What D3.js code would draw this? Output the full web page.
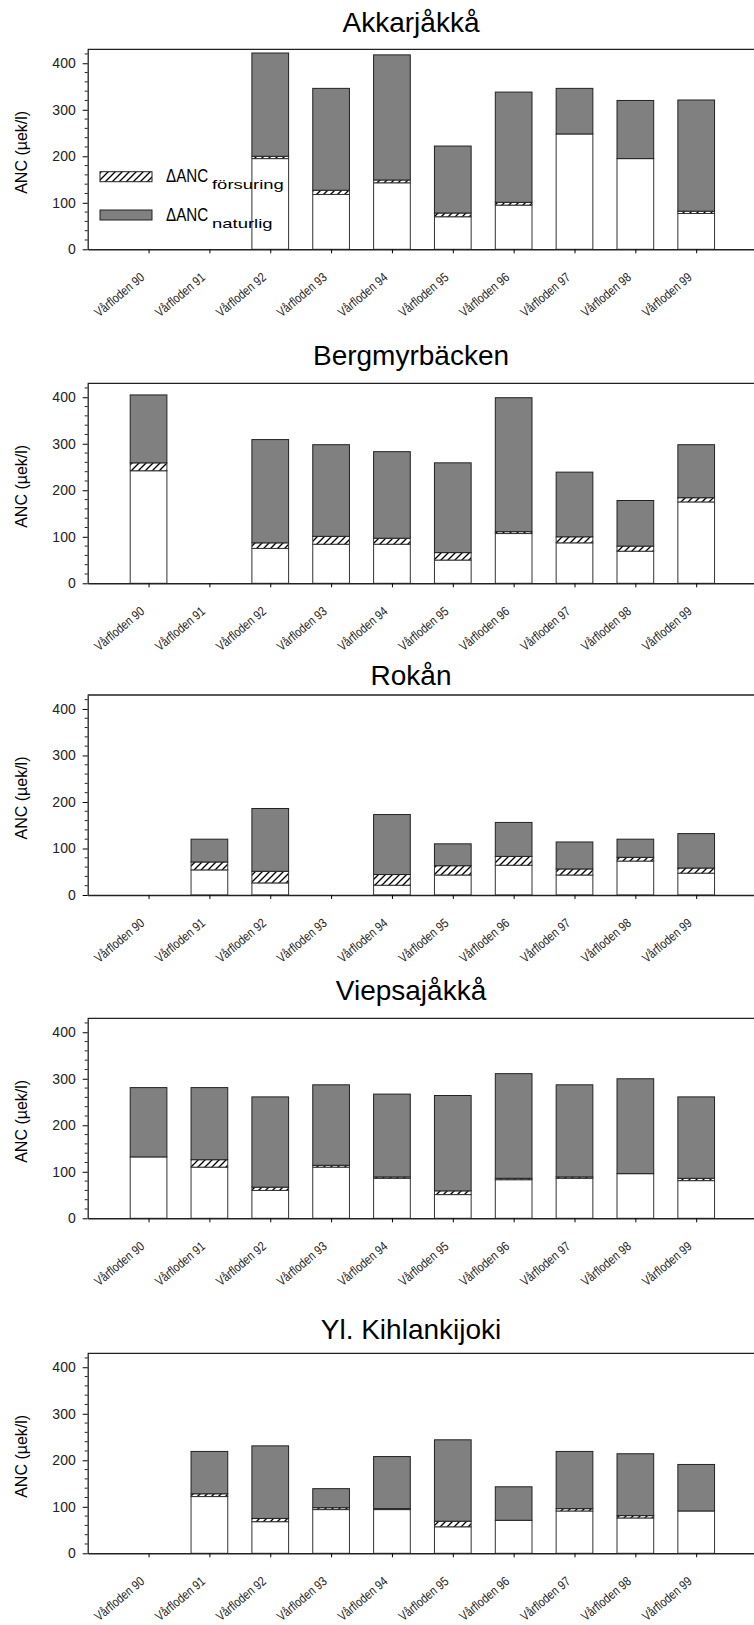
<!DOCTYPE html>
<html>
<head>
<meta charset="utf-8">
<script src="https://cdn.jsdelivr.net/npm/d3@7"></script>
<style>
  body { margin: 0; background: #fff; }
  svg { display: block; font-family: "Liberation Sans", Arial, sans-serif; }
</style>
</head>
<body>
<div id="chart"></div>
<script>
// categories on the x axis
const years = [90, 91, 92, 93, 94, 95, 96, 97, 98, 99];
const categories = years.map(y => 'Vårfloden ' + y);
const yTicks = [0, 100, 200, 300, 400];

// one row per station: white base, hatched ΔANC försuring, grey ΔANC naturlig (µek/l)
const akkarjakkaBase      = [null, null, 195, 118, 143, 70, 95, 248, 195, 77];
const akkarjakkaForsuring = [null, null, 5, 9, 6, 8, 6, 0, 0, 5];
const akkarjakkaNaturlig  = [null, null, 222, 219, 269, 144, 237, 98, 125, 239];

const bergmyrBase      = [242, null, 75, 84, 84, 50, 107, 87, 69, 175];
const bergmyrForsuring = [17, null, 12, 17, 13, 16, 4, 13, 11, 9];
const bergmyrNaturlig  = [146, null, 222, 197, 186, 193, 288, 139, 98, 114];

const rokanBase      = [null, 54, 26, null, 21, 43, 64, 43, 73, 47];
const rokanForsuring = [null, 17, 25, null, 23, 20, 19, 13, 8, 11];
const rokanNaturlig  = [null, 49, 135, null, 129, 47, 73, 58, 39, 74];

const viepsaBase      = [132, 110, 60, 110, 86, 51, 83, 86, 96, 81];
const viepsaForsuring = [0, 16, 7, 4, 3, 8, 3, 3, 0, 5];
const viepsaNaturlig  = [149, 155, 194, 173, 178, 205, 225, 198, 204, 175];

const kihlBase      = [null, 122, 68, 94, 94, 57, 71, 91, 76, 91];
const kihlForsuring = [null, 6, 7, 4, 2, 12, 0, 5, 5, 0];
const kihlNaturlig  = [null, 91, 156, 41, 112, 175, 72, 123, 133, 100];

const stations = [
  {name: 'Akkarjåkkå', base: akkarjakkaBase, fors: akkarjakkaForsuring, nat: akkarjakkaNaturlig},
  {name: 'Bergmyrbäcken', base: bergmyrBase, fors: bergmyrForsuring, nat: bergmyrNaturlig},
  {name: 'Rokån', base: rokanBase, fors: rokanForsuring, nat: rokanNaturlig},
  {name: 'Viepsajåkkå', base: viepsaBase, fors: viepsaForsuring, nat: viepsaNaturlig},
  {name: 'Yl. Kihlankijoki', base: kihlBase, fors: kihlForsuring, nat: kihlNaturlig}
];

// layout of the five panels
const width = 754, height = 1625;
const left = 87.7, step = 60.85, plotH = 200;
const zeroY = [249.3, 583.3, 895, 1218.3, 1553.3];
const titleY = [31.7, 365, 685, 1000, 1339.3];
const titleX = 411;

const svg = d3.select('#chart').append('svg')
  .attr('width', width)
  .attr('height', height);

let defs = svg.append('defs');
let pat = defs.append('pattern')
  .attr('id', 'hatch')
  .attr('patternUnits', 'userSpaceOnUse')
  .attr('width', 7).attr('height', 7);
pat.append('rect').attr('width', 7).attr('height', 7).attr('fill', '#fff');
pat.append('path')
  .attr('d', 'M-1,8 L8,-1 M-4,4 L4,-4 M3,11 L11,3')
  .attr('stroke', '#000').attr('stroke-width', 1.3);

let x = d3.scaleLinear().domain([89, 100]).range([left, left + 11 * step]);
let barW = 36.7;

stations.forEach((st, i) => {
  let y0 = zeroY[i];
  let y = d3.scaleLinear().domain([0, 430]).range([y0, y0 - plotH]);
  let g = svg.append('g');

  g.append('text')
    .attr('x', titleX).attr('y', titleY[i])
    .attr('text-anchor', 'middle')
    .style('font-size', '28px')
    .text(st.name);

  // frame top line
  g.append('line')
    .attr('x1', left).attr('x2', x(100))
    .attr('y1', y(430)).attr('y2', y(430))
    .attr('stroke', '#222').attr('stroke-width', 1.3);

  // stacked bars
  let rows = years.map((yr, j) => ({yr, base: st.base[j], fors: st.fors[j], nat: st.nat[j]}))
    .filter(d => d.base !== null);
  let bars = g.selectAll('.bar').data(rows).enter().append('g');
  bars.append('rect')
    .attr('x', d => x(d.yr) - barW / 2).attr('width', barW)
    .attr('y', d => y(d.base)).attr('height', d => y(0) - y(d.base))
    .attr('fill', '#fff').attr('stroke', '#333').attr('stroke-width', 1);
  bars.filter(d => d.fors > 0).append('rect')
    .attr('x', d => x(d.yr) - barW / 2).attr('width', barW)
    .attr('y', d => y(d.base + d.fors)).attr('height', d => y(d.base) - y(d.base + d.fors))
    .attr('fill', 'url(#hatch)').attr('stroke', '#333').attr('stroke-width', 1);
  bars.append('rect')
    .attr('x', d => x(d.yr) - barW / 2).attr('width', barW)
    .attr('y', d => y(d.base + d.fors + d.nat)).attr('height', d => y(d.base + d.fors) - y(d.base + d.fors + d.nat))
    .attr('fill', '#808080').attr('stroke', '#222').attr('stroke-width', 1);

  // y axis with minor ticks
  let yAxis = d3.axisLeft(y).tickValues(yTicks).tickSize(5).tickPadding(7).tickSizeOuter(0);
  let ya = g.append('g').attr('transform', 'translate(' + left + ',0)').call(yAxis);
  ya.select('.domain').attr('stroke', '#222').attr('stroke-width', 1.3);
  ya.selectAll('text').style('font-size', '14px').attr('fill', '#222');
  let minor = d3.range(20, 430, 20).filter(v => v % 100 !== 0);
  g.append('g').selectAll('line').data(minor).enter().append('line')
    .attr('x1', left - 3).attr('x2', left)
    .attr('y1', d => y(d)).attr('y2', d => y(d))
    .attr('stroke', '#222');

  // x axis, labels drawn separately so they can be slanted
  let xAxis = d3.axisBottom(x).tickValues(years)
    .tickFormat('').tickSize(4).tickSizeOuter(0);
  let xa = g.append('g').attr('transform', 'translate(0,' + y0 + ')').call(xAxis);
  xa.select('.domain').attr('stroke', '#222').attr('stroke-width', 1.5);
  g.append('g').selectAll('text').data(years).enter().append('text')
    .attr('transform', (d) => 'translate(' + (x(d) - 3.3) + ',' + (y0 + 29.5) + ') rotate(-40) scale(0.82,1)')
    .attr('text-anchor', 'end')
    .style('font-size', '13px')
    .attr('fill', '#222')
    .text((d, j) => categories[j]);

  g.append('text')
    .attr('transform', 'translate(21.6,' + (y0 - 97) + ') rotate(-90)')
    .attr('text-anchor', 'middle')
    .attr('dy', '0.35em')
    .style('font-size', '16px')
    .text('ANC (µek/l)');

  if (i === 0) {
    let lg = g.append('g');
    let items = [
      {fill: 'url(#hatch)', sub: 'försuring', subScale: 1.42, cy: 176.7},
      {fill: '#808080', sub: 'naturlig', subScale: 1.42, cy: 215}
    ];
    items.forEach(it => {
      lg.append('rect')
        .attr('x', 100).attr('y', it.cy - 5).attr('width', 52).attr('height', 10)
        .attr('fill', it.fill).attr('stroke', '#222');
      lg.append('text')
        .attr('transform', 'translate(166,' + (it.cy + 5.6) + ') scale(0.8,1)')
        .style('font-size', '19px')
        .text('ΔANC');
      lg.append('text')
        .attr('transform', 'translate(212,' + (it.cy + 12.6) + ') scale(' + it.subScale + ',1)')
        .style('font-size', '13px')
        .text(it.sub);
    });
  }
});
</script>
</body>
</html>
